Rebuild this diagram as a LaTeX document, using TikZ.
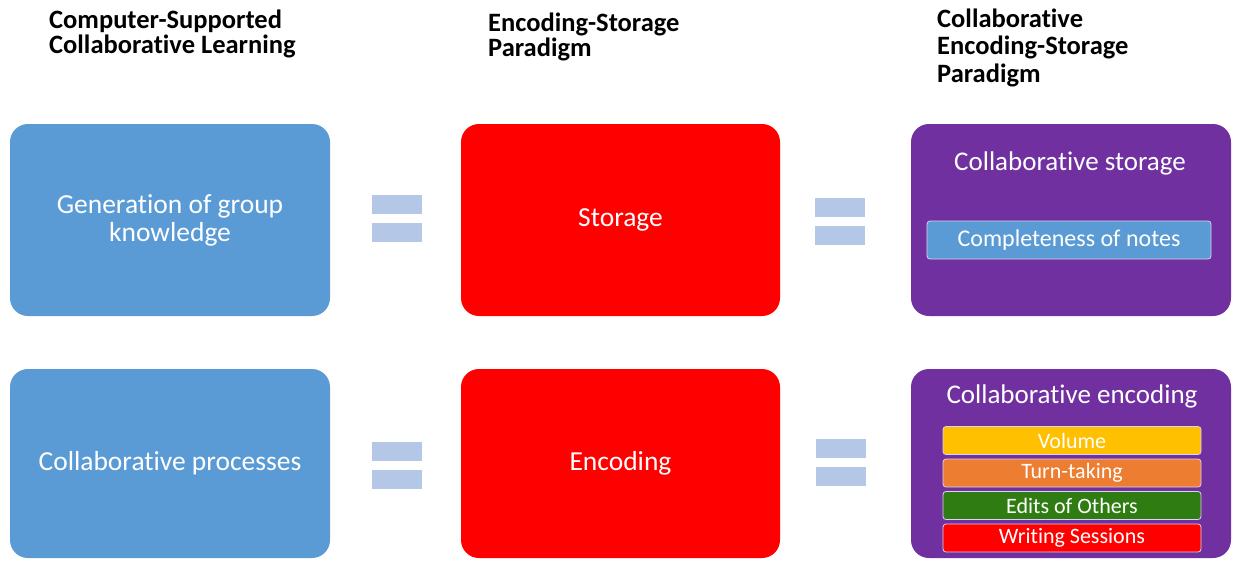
\documentclass[tikz,border=0pt]{standalone}
\usepackage{fontspec}
\setmainfont{Carlito}[Ligatures=NoCommon]
\usepackage{tikz}
\usetikzlibrary{positioning}
\definecolor{csblue}{HTML}{5B9BD5}
\definecolor{esred}{HTML}{FF0000}
\definecolor{cespurple}{HTML}{7030A0}
\definecolor{eqblue}{HTML}{B4C7E7}
\definecolor{volyellow}{HTML}{FFC000}
\definecolor{turnorange}{HTML}{ED7D31}
\definecolor{editgreen}{HTML}{2F7D12}
\definecolor{barline}{HTML}{DCD3EC}

\begin{document}
\begin{tikzpicture}[x=1pt, y=-1pt,
  bigbox/.style={rectangle, rounded corners=18pt, minimum width=320pt, text=white, align=center, inner sep=0pt, font=\fontsize{27.5}{28}\selectfont},
  head/.style={anchor=base west, align=left, inner sep=0pt, font=\fontsize{26.5}{24.5}\selectfont\bfseries},
  subbox/.style={rectangle, rounded corners=3pt, draw=barline, line width=0.8pt, text=white, inner sep=0pt, font=\fontsize{22}{22}\selectfont}]
\useasboundingbox (0,0) rectangle (1239,560);
% column headings (base = last line)
\node[head] (hcscl) at (49,53) {Computer-Supported\\Collaborative Learning};
\node[head] (hesp) at (488,56) {Encoding-Storage\\Paradigm};
\node[head, font=\fontsize{26.5}{27.5}\selectfont\bfseries] (hcesp) at (937,82) {Collaborative\\Encoding-Storage\\Paradigm};
% the six big boxes
\node[bigbox, fill=csblue, minimum height=192pt] (gen) at (170,220) {Generation of group\\knowledge};
\node[bigbox, fill=csblue, minimum height=189pt] (proc) at (170,463.5) {Collaborative processes};
\node[bigbox, fill=esred, minimum width=319pt, minimum height=192pt] (stor) at (620.5,220) {Storage};
\node[bigbox, fill=esred, minimum width=319pt, minimum height=189pt] (enc) at (620.5,463.5) {Encoding};
\node[bigbox, fill=cespurple, minimum height=192pt] (cstor) at (1071,220) {};
\node[bigbox, fill=cespurple, minimum height=189pt] (cenc) at (1071,463.5) {};
% purple box contents
\node[text=white, font=\fontsize{27}{27}\selectfont, anchor=base] (cstort) at (1070,170) {Collaborative storage};
\node[subbox, fill=csblue, minimum width=284pt, minimum height=38pt, font=\fontsize{24}{24}\selectfont] (notes) at (1069,240) {Completeness of notes};
\node[text=white, font=\fontsize{27}{27}\selectfont, anchor=base] (cenct) at (1072,403) {Collaborative encoding};
\foreach \y/\c/\t/\n in {440.5/volyellow/Volume/vol, 473/turnorange/Turn-taking/turn, 505.5/editgreen/Edits of Others/edit, 538/esred/Writing Sessions/wses}
  \node[subbox, fill=\c, minimum width=258pt, minimum height=28pt] (\n) at (1072,\y) {\t};
% equals signs between the columns
\foreach \x/\y in {372/195, 815/198, 372/442, 816/439}
  { \fill[eqblue] (\x,\y) rectangle ++(50,19); \fill[eqblue] (\x,\y+28) rectangle ++(50,19); }
\end{tikzpicture}
\end{document}
